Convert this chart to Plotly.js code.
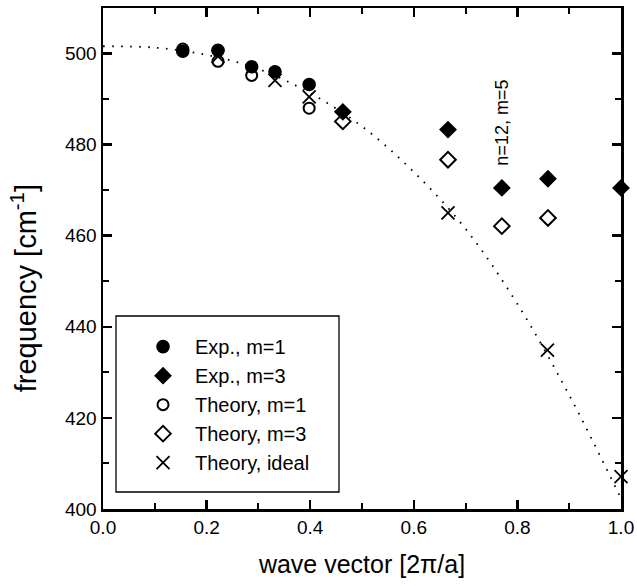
<!DOCTYPE html>
<html>
<head>
<meta charset="utf-8">
<script src="https://cdn.plot.ly/plotly-3.0.1.min.js"></script>
<style>html,body{margin:0;padding:0;background:#fff;}#chart{width:637px;height:586px;}</style>
</head>
<body>
<div id="chart"></div>
<script>
// Experimental, m=1 (filled circles)
const expM1X = [0.154, 0.222, 0.287, 0.332, 0.398];
const expM1Y = [500.5, 500.7, 497.1, 496.0, 493.2];
// Experimental, m=3 (filled diamonds)
const expM3X = [0.463, 0.666, 0.770, 0.859, 1.0];
const expM3Y = [487.2, 483.3, 470.5, 472.5, 470.5];
// Theory, m=1 (open circles)
const thM1X = [0.154, 0.222, 0.287, 0.398];
const thM1Y = [501.0, 498.3, 495.2, 488.0];
// Theory, m=3 (open diamonds)
const thM3X = [0.463, 0.666, 0.770, 0.859];
const thM3Y = [485.1, 476.7, 462.1, 463.9];
// Theory, ideal (crosses)
const thIdX = [0.222, 0.332, 0.398, 0.666, 0.858, 1.0];
const thIdY = [499.4, 494.1, 490.5, 465.0, 434.9, 407.1];
// ideal dispersion (dotted curve)
const curveX = [0.0, 0.1, 0.2, 0.3, 0.4, 0.5, 0.6, 0.7, 0.8, 0.9, 1.0];
const curveY = [501.6, 501.3, 499.7, 496.6, 491.3, 484.0, 474.0, 461.5, 445.0, 425.0, 402.3];
const annText = "n=12, m=5";
const xTitle = "wave vector [2π/a]";
const yTitle = "frequency [cm<sup>-1</sup>]";

const FONT = "Liberation Sans, Arial, Helvetica, sans-serif";
const mk = (sym) => ({symbol: sym, size: 12, color: "#000", line: {color: "#000", width: 1.6}});

const traces = [
  {x: curveX, y: curveY, mode: "lines", line: {color: "#000", width: 1.8, dash: "1.6px,7.4px", shape: "spline"}, showlegend: false, hoverinfo: "skip"},
  {x: expM1X, y: expM1Y, mode: "markers", name: "Exp., m=1", marker: mk("circle"), cliponaxis: false},
  {x: expM3X, y: expM3Y, mode: "markers", name: "Exp., m=3", marker: mk("diamond"), cliponaxis: false},
  {x: thM1X, y: thM1Y, mode: "markers", name: "Theory, m=1", marker: Object.assign(mk("circle-open"), {size: 11, line: {color: "#000", width: 2}}), cliponaxis: false},
  {x: thM3X, y: thM3Y, mode: "markers", name: "Theory, m=3", marker: Object.assign(mk("diamond-open"), {line: {color: "#000", width: 2}}), cliponaxis: false},
  {x: thIdX, y: thIdY, mode: "markers", name: "Theory, ideal", marker: Object.assign(mk("x-thin-open"), {size: 13, line: {color: "#000", width: 1.8}}), cliponaxis: false}
];

const axisCommon = {
  showgrid: false, zeroline: false, showline: true, linecolor: "#000", linewidth: 2.5,
  mirror: "allticks", ticks: "inside", ticklen: 9, tickwidth: 2.5, tickcolor: "#000",
  tickfont: {family: FONT, size: 19, color: "#000"}
};

const layout = {
  width: 637, height: 586,
  margin: {l: 103, r: 16, t: 8, b: 77},
  paper_bgcolor: "#fff", plot_bgcolor: "#fff",
  font: {family: FONT, color: "#000"},
  showlegend: true,
  xaxis: Object.assign({}, axisCommon, {
    range: [0, 1], tick0: 0, dtick: 0.2, tickformat: ".1f",
    minor: {dtick: 0.1, ticks: "inside", ticklen: 6, tickwidth: 2, tickcolor: "#000"},
    title: {text: xTitle, font: {family: FONT, size: 25, color: "#000"}, standoff: 18}
  }),
  yaxis: Object.assign({}, axisCommon, {
    range: [400, 510], tick0: 400, dtick: 20,
    minor: {dtick: 10, ticks: "inside", ticklen: 6, tickwidth: 2, tickcolor: "#000"}
  }),
  legend: {
    x: 0.0541, y: 0.363, xanchor: "left", yanchor: "top",
    bgcolor: "rgba(0,0,0,0)", borderwidth: 0,
    font: {family: FONT, size: 20, color: "#000"},
    itemwidth: 54, tracegroupgap: 0
  },
  shapes: [{
    type: "rect", xref: "paper", yref: "paper",
    x0: 0.0251, x1: 0.4556, y0: 0.0339, y1: 0.3852,
    line: {color: "#000", width: 1.3}, fillcolor: "#fff", layer: "below"
  }],
  annotations: [
    {x: 0.77, y: 484.8, xref: "x", yref: "y", text: annText, showarrow: false,
     textangle: -90, font: {family: FONT, size: 18, color: "#000"}},
    {x: -0.153, y: 0.44, xref: "paper", yref: "paper", text: yTitle, showarrow: false,
     textangle: -90, xanchor: "center", yanchor: "middle",
     font: {family: FONT, size: 29, color: "#000"}}
  ]
};

Plotly.newPlot("chart", traces, layout, {displayModeBar: false, staticPlot: true});
</script>
</body>
</html>
